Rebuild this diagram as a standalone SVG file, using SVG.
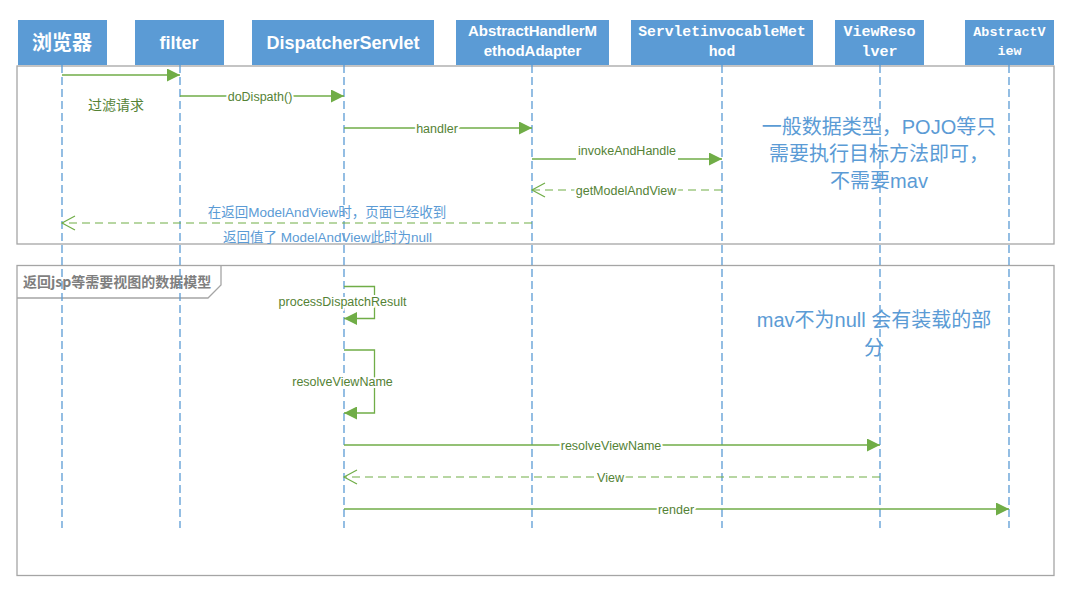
<svg xmlns="http://www.w3.org/2000/svg" width="1067" height="611" viewBox="0 0 1067 611">
<style>
.bg{fill:#fff}
.hd{fill:#5b9bd5}
.hs{fill:#fff;font-weight:bold;text-anchor:middle;font-family:"Liberation Sans","Noto Sans CJK SC",sans-serif}
.hm{fill:#fff;font-weight:bold;text-anchor:middle;font-family:"Liberation Mono",monospace}
.frame{fill:none;stroke:#a5a5a5;stroke-width:1.3}
.life{stroke:#5b9bd5;stroke-width:1.3;stroke-dasharray:8 4;fill:none}
.msg{stroke:#70ad47;stroke-width:1.3;fill:none}
.ret{stroke:#70ad47;stroke-width:1.2;fill:none;stroke-dasharray:8 5}
.lbl{font-family:"Liberation Sans","Noto Sans CJK SC",sans-serif;font-size:12.5px;fill:#548235;text-anchor:middle;paint-order:stroke;stroke:#fff;stroke-width:4px;stroke-linejoin:round}
.blue{font-family:"Liberation Sans","Noto Sans CJK SC",sans-serif;font-size:13.5px;fill:#5b9bd5;text-anchor:middle}
.note{font-family:"Liberation Sans","Noto Sans CJK SC",sans-serif;font-size:20px;fill:#5b9bd5;text-anchor:middle}
.tab{font-family:"Noto Sans CJK SC",sans-serif;font-size:14px;font-weight:bold;fill:#7f7f7f}
</style>
<defs>
<marker id="fa" markerUnits="userSpaceOnUse" markerWidth="13" markerHeight="13" refX="13" refY="6.5" orient="auto">
<path d="M0,0 L13,6.5 L0,13 Z" fill="#70ad47"/>
</marker>
<marker id="oa" markerUnits="userSpaceOnUse" markerWidth="16" markerHeight="16" refX="14" refY="8" orient="auto">
<path d="M1,1 L14,8 L1,15" fill="none" stroke="#70ad47" stroke-width="1.2"/>
</marker>
</defs>
<rect class="bg" x="0" y="0" width="1067" height="611"/>

<g id="frames">
<rect class="frame" x="17" y="66" width="1037" height="178"/>
<rect class="frame" x="17" y="265.5" width="1037" height="310"/>
<path class="frame" d="M17,298 L208,298 L221,285 L221,265.5"/>
<text class="tab" x="23" y="287">返回jsp等需要视图的数据模型</text>
</g>

<g id="lifelines">
<line class="life" x1="62" y1="65" x2="62" y2="528"/>
<line class="life" x1="180" y1="65" x2="180" y2="528"/>
<line class="life" x1="344" y1="65" x2="344" y2="528"/>
<line class="life" x1="532" y1="65" x2="532" y2="528"/>
<line class="life" x1="722" y1="65" x2="722" y2="528"/>
<line class="life" x1="880" y1="65" x2="880" y2="528"/>
<line class="life" x1="1009" y1="65" x2="1009" y2="528"/>
</g>

<g id="node-browser">
<rect class="hd" x="18" y="20" width="89" height="45"/>
<text class="hs" x="62" y="49.5" font-size="20">浏览器</text>
</g>
<g id="node-filter">
<rect class="hd" x="135" y="20" width="89" height="45"/>
<text class="hs" x="179" y="48.5" font-size="18">filter</text>
</g>
<g id="node-dispatcher">
<rect class="hd" x="252" y="20" width="182" height="45"/>
<text class="hs" x="343" y="48.5" font-size="18">DispatcherServlet</text>
</g>
<g id="node-adapter">
<rect class="hd" x="456" y="20" width="153" height="45"/>
<text class="hs" x="532.5" y="36" font-size="15">AbstractHandlerM</text>
<text class="hs" x="532.5" y="56" font-size="15">ethodAdapter</text>
</g>
<g id="node-invocable">
<rect class="hd" x="631" y="20" width="182" height="45"/>
<text class="hm" x="722" y="36" font-size="14.7">ServletinvocableMet</text>
<text class="hm" x="722" y="56" font-size="14.7">hod</text>
</g>
<g id="node-viewresolver">
<rect class="hd" x="835" y="20" width="89" height="45"/>
<text class="hm" x="879.5" y="36" font-size="15">ViewReso</text>
<text class="hm" x="879.5" y="56" font-size="15">lver</text>
</g>
<g id="node-abstractview">
<rect class="hd" x="965" y="20" width="89" height="45"/>
<text class="hm" x="1009.5" y="36" font-size="13.4">AbstractV</text>
<text class="hm" x="1009.5" y="55" font-size="13.4">iew</text>
</g>

<g id="connectors">
<line class="msg" x1="62" y1="75" x2="180" y2="75" marker-end="url(#fa)"/>
<text x="88" y="110" font-family="Noto Sans CJK SC,sans-serif" font-size="14" fill="#548235">过滤请求</text>

<line class="msg" x1="180" y1="96" x2="344" y2="96" marker-end="url(#fa)"/>
<text class="lbl" x="260" y="100.5">doDispath()</text>

<line class="msg" x1="344" y1="128" x2="532" y2="128" marker-end="url(#fa)"/>
<text class="lbl" x="437" y="132.5">handler</text>

<line class="msg" x1="532" y1="159" x2="576" y2="159"/>
<line class="msg" x1="678" y1="159" x2="722" y2="159" marker-end="url(#fa)"/>
<text class="lbl" x="627" y="155">invokeAndHandle</text>

<line class="ret" x1="722" y1="190" x2="532" y2="190" marker-end="url(#oa)"/>
<text class="lbl" x="626" y="194.5">getModelAndView</text>

<line class="ret" x1="532" y1="223" x2="62" y2="223" marker-end="url(#oa)"/>
<text class="blue" x="327" y="216.5">在返回ModelAndView时，页面已经收到</text>
<text class="blue" x="327.5" y="241.5">返回值了 ModelAndView此时为null</text>

<polyline class="msg" points="344,286.5 374.5,286.5 374.5,318.5 344,318.5" marker-end="url(#fa)"/>
<text class="lbl" x="342.5" y="306">processDispatchResult</text>

<polyline class="msg" points="344,350 374.5,350 374.5,413 344,413" marker-end="url(#fa)"/>
<text class="lbl" x="342.5" y="386">resolveViewName</text>

<line class="msg" x1="344" y1="445" x2="880" y2="445" marker-end="url(#fa)"/>
<text class="lbl" x="611" y="449.5">resolveViewName</text>

<line class="ret" x1="880" y1="477" x2="344" y2="477" marker-end="url(#oa)"/>
<text class="lbl" x="610.5" y="481.5">View</text>

<line class="msg" x1="344" y1="509" x2="1009" y2="509" marker-end="url(#fa)"/>
<text class="lbl" x="676" y="513.5">render</text>
</g>

<g id="notes">
<text class="note" x="879" y="134">一般数据类型，POJO等只</text>
<text class="note" x="879" y="160.5">需要执行目标方法即可，</text>
<text class="note" x="879" y="187.5">不需要mav</text>
<text class="note" x="874" y="327" font-size="20.5">mav不为null 会有装载的部</text>
<text class="note" x="874" y="355" font-size="20.5">分</text>
</g>
</svg>
